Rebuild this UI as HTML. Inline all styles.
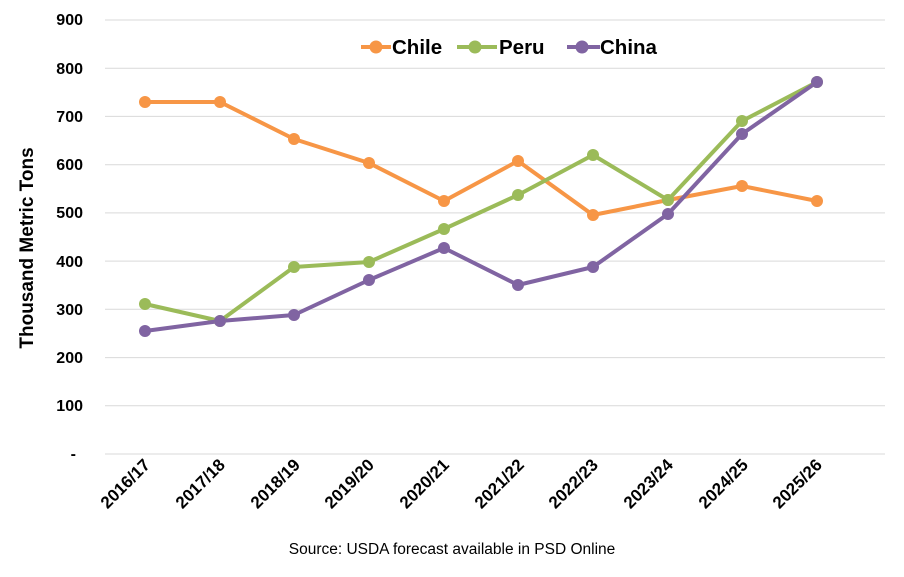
<!DOCTYPE html>
<html><head><meta charset="utf-8"><style>
body{margin:0;background:#fff;}
svg text{font-family:"Liberation Sans",Arial,sans-serif;}
</style></head><body>
<svg width="904" height="572" viewBox="0 0 904 572" xmlns="http://www.w3.org/2000/svg">
<g stroke="#d9d9d9" stroke-width="1">
<line x1="105" y1="20" x2="885" y2="20"/>
<line x1="105" y1="68.2" x2="885" y2="68.2"/>
<line x1="105" y1="116.4" x2="885" y2="116.4"/>
<line x1="105" y1="164.7" x2="885" y2="164.7"/>
<line x1="105" y1="212.9" x2="885" y2="212.9"/>
<line x1="105" y1="261.1" x2="885" y2="261.1"/>
<line x1="105" y1="309.3" x2="885" y2="309.3"/>
<line x1="105" y1="357.6" x2="885" y2="357.6"/>
<line x1="105" y1="405.8" x2="885" y2="405.8"/>
<line x1="105" y1="454" x2="885" y2="454"/>
</g>
<g font-size="16" font-weight="bold" fill="#000" text-anchor="end">
<text x="83" y="25">900</text><text x="83" y="74">800</text><text x="83" y="122">700</text>
<text x="83" y="170">600</text><text x="83" y="218">500</text><text x="83" y="267">400</text>
<text x="83" y="315">300</text><text x="83" y="363">200</text><text x="83" y="411">100</text>
<text x="76" y="459">-</text>
</g>
<text transform="translate(33,248) rotate(-90)" font-size="19" font-weight="bold" text-anchor="middle">Thousand Metric Tons</text>
<g font-size="17" font-weight="bold" text-anchor="end">
<text transform="translate(151,466) rotate(-45)">2016/17</text>
<text transform="translate(226,466) rotate(-45)">2017/18</text>
<text transform="translate(301,466) rotate(-45)">2018/19</text>
<text transform="translate(375,466) rotate(-45)">2019/20</text>
<text transform="translate(450,466) rotate(-45)">2020/21</text>
<text transform="translate(525,466) rotate(-45)">2021/22</text>
<text transform="translate(599,466) rotate(-45)">2022/23</text>
<text transform="translate(674,466) rotate(-45)">2023/24</text>
<text transform="translate(749,466) rotate(-45)">2024/25</text>
<text transform="translate(823,466) rotate(-45)">2025/26</text>
</g>
<text x="452" y="554" font-size="15.5" text-anchor="middle">Source: USDA forecast available in PSD Online</text>
<g fill="none" stroke-width="4" stroke-linejoin="round">
<polyline stroke="#F79646" points="145,102 220,102 294,139 369,163 444,201 518,161 593,215 668,200 742,186 817,201"/>
<polyline stroke="#9BBB59" points="145,304 220,321 294,267 369,262 444,229 518,195 593,155 668,200 742,121 817,82"/>
<polyline stroke="#8064A2" points="145,331 220,321 294,315 369,280 444,248 518,285 593,267 668,214 742,134 817,82"/>
</g>
<g fill="#F79646">
<circle cx="145" cy="102" r="6"/><circle cx="220" cy="102" r="6"/><circle cx="294" cy="139" r="6"/><circle cx="369" cy="163" r="6"/><circle cx="444" cy="201" r="6"/><circle cx="518" cy="161" r="6"/><circle cx="593" cy="215" r="6"/><circle cx="668" cy="200" r="6"/><circle cx="742" cy="186" r="6"/><circle cx="817" cy="201" r="6"/>
</g>
<g fill="#9BBB59">
<circle cx="145" cy="304" r="6"/><circle cx="220" cy="321" r="6"/><circle cx="294" cy="267" r="6"/><circle cx="369" cy="262" r="6"/><circle cx="444" cy="229" r="6"/><circle cx="518" cy="195" r="6"/><circle cx="593" cy="155" r="6"/><circle cx="668" cy="200" r="6"/><circle cx="742" cy="121" r="6"/><circle cx="817" cy="82" r="6"/>
</g>
<g fill="#8064A2">
<circle cx="145" cy="331" r="6"/><circle cx="220" cy="321" r="6"/><circle cx="294" cy="315" r="6"/><circle cx="369" cy="280" r="6"/><circle cx="444" cy="248" r="6"/><circle cx="518" cy="285" r="6"/><circle cx="593" cy="267" r="6"/><circle cx="668" cy="214" r="6"/><circle cx="742" cy="134" r="6"/><circle cx="817" cy="82" r="6"/>
</g>
<g stroke-width="4">
<line x1="361" y1="47" x2="391" y2="47" stroke="#F79646"/><circle cx="376" cy="47" r="6.5" fill="#F79646"/>
<line x1="457" y1="47" x2="497" y2="47" stroke="#9BBB59"/><circle cx="475" cy="47" r="6.5" fill="#9BBB59"/>
<line x1="567" y1="47" x2="600" y2="47" stroke="#8064A2"/><circle cx="582" cy="47" r="6.5" fill="#8064A2"/>
</g>
<g font-size="20.5" font-weight="bold">
<text x="392" y="54">Chile</text><text x="499" y="54">Peru</text><text x="600" y="54">China</text>
</g>
</svg>
</body></html>
